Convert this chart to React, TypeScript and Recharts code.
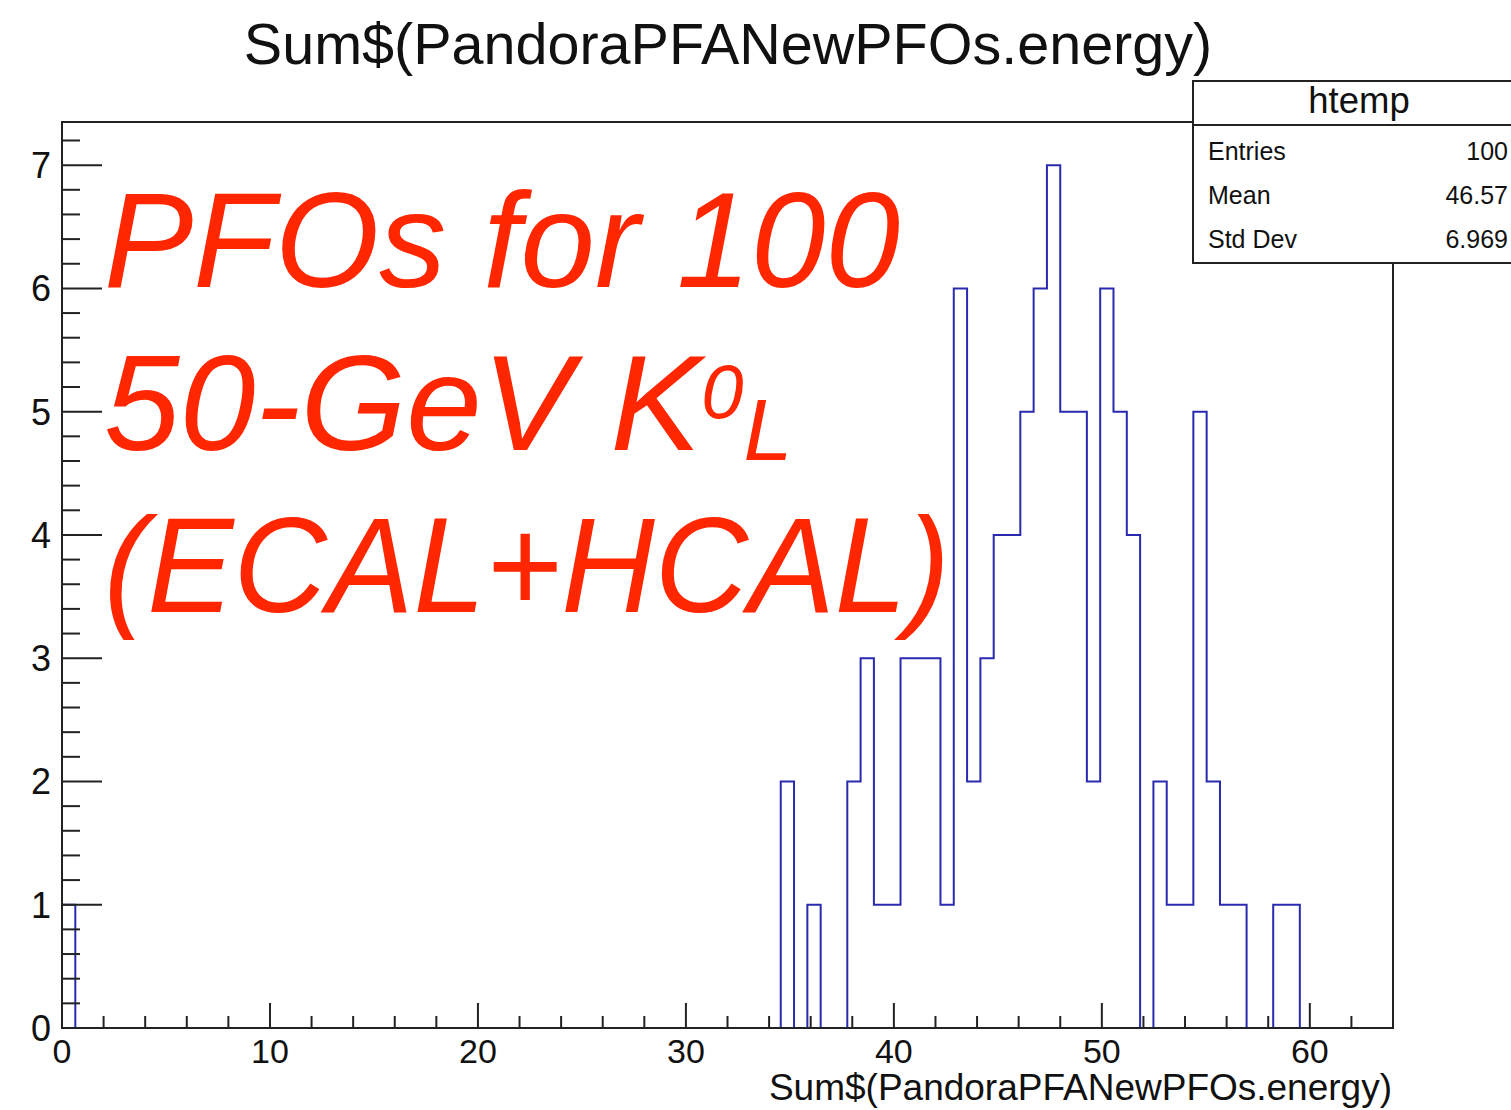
import React from 'react';
import { LineChart, Line, XAxis, YAxis, ReferenceArea } from 'recharts';

// histogram: 100 bins of width 0.64 from 0 to 64
const BIN_WIDTH = 0.64;
const X_MAX = 64;
const Y_MAX = 7.35;

const binCounts = [
  1, 0, 0, 0, 0, 0, 0, 0, 0, 0,
  0, 0, 0, 0, 0, 0, 0, 0, 0, 0,
  0, 0, 0, 0, 0, 0, 0, 0, 0, 0,
  0, 0, 0, 0, 0, 0, 0, 0, 0, 0,
  0, 0, 0, 0, 0, 0, 0, 0, 0, 0,
  0, 0, 0, 0, 2, 0, 1, 0, 0, 2,
  3, 1, 1, 3, 3, 3, 1, 6, 2, 3,
  4, 4, 5, 6, 7, 5, 5, 2, 6, 5,
  4, 0, 2, 1, 1, 5, 2, 1, 1, 0,
  0, 1, 1, 0, 0, 0, 0, 0, 0, 0,
];

const xTicks = [0, 2, 4, 6, 8, 10, 12, 14, 16, 18, 20, 22, 24, 26, 28, 30, 32, 34, 36, 38, 40, 42, 44, 46, 48, 50, 52, 54, 56, 58, 60, 62];
const yTicks = [
  0, 0.2, 0.4, 0.6, 0.8, 1, 1.2, 1.4, 1.6, 1.8, 2, 2.2, 2.4, 2.6, 2.8, 3, 3.2, 3.4, 3.6, 3.8,
  4, 4.2, 4.4, 4.6, 4.8, 5, 5.2, 5.4, 5.6, 5.8, 6, 6.2, 6.4, 6.6, 6.8, 7, 7.2,
];

const statLabels = ['Entries', 'Mean', 'Std Dev'];
const statValues = ['100', '46.57', '6.969'];

const TITLE = 'Sum$(PandoraPFANewPFOs.energy)';

const data = [
  ...binCounts.map((count, i) => ({ x: i * BIN_WIDTH, count })),
  { x: X_MAX, count: 0 },
];

const FONT = '"Liberation Sans", Arial, Helvetica, sans-serif';
const AXIS = '#222';
const RED = '#ff2600';

// ROOT style: ticks point into the frame
function renderXTick(props: any) {
  const { x, y, payload } = props;
  const major = payload.value % 10 === 0;
  return (
    <g key={`xt-${payload.value}`}>
      <line x1={x} x2={x} y1={y} y2={y - (major ? 25 : 12)} stroke={AXIS} strokeWidth={2} />
      {major && (
        <text x={x} y={y + 35} textAnchor="middle" fontSize={34} fontFamily={FONT} fill="#111">
          {payload.value}
        </text>
      )}
    </g>
  );
}

function renderYTick(props: any) {
  const { x, y, payload } = props;
  const major = Number.isInteger(payload.value);
  return (
    <g key={`yt-${payload.value}`}>
      <line x1={x} x2={x + (major ? 40 : 18)} y1={y} y2={y} stroke={AXIS} strokeWidth={2} />
      {major && (
        <text x={x - 11} y={y + 13} textAnchor="end" fontSize={36} fontFamily={FONT} fill="#111">
          {payload.value}
        </text>
      )}
    </g>
  );
}

export default function App() {
  return (
    <div
      style={{
        position: 'fixed',
        left: 0,
        top: 0,
        width: 1511,
        height: 1110,
        overflow: 'hidden',
        background: '#fff',
      }}
    >
      <LineChart
        width={1511}
        height={1110}
        data={data}
        margin={{ top: 122, right: 118, bottom: 22, left: 12 }}
      >
        <XAxis
          dataKey="x"
          type="number"
          domain={[0, X_MAX]}
          ticks={xTicks}
          interval={0}
          height={60}
          tickSize={0}
          tickMargin={0}
          tickLine={false}
          tick={renderXTick}
          axisLine={{ stroke: AXIS, strokeWidth: 2 }}
          allowDataOverflow
        />
        <YAxis
          type="number"
          domain={[0, Y_MAX]}
          ticks={yTicks}
          interval={0}
          width={50}
          tickSize={0}
          tickMargin={0}
          tickLine={false}
          tick={renderYTick}
          axisLine={{ stroke: AXIS, strokeWidth: 2 }}
          allowDataOverflow
        />
        <ReferenceArea
          x1={0}
          x2={X_MAX}
          y1={0}
          y2={Y_MAX}
          fill="none"
          fillOpacity={0}
          stroke={AXIS}
          strokeWidth={2}
          ifOverflow="visible"
        />
        <Line
          type="stepAfter"
          dataKey="count"
          stroke="#2a2ab0"
          strokeWidth={2}
          dot={false}
          isAnimationActive={false}
        />
      </LineChart>

      <svg
        width={1511}
        height={1110}
        style={{ position: 'absolute', left: 0, top: 0, pointerEvents: 'none' }}
      >
        <text x={728} y={64} textAnchor="middle" fontSize={57.5} fontFamily={FONT} fill="#111">
          {TITLE}
        </text>
        <text x={1392} y={1100} textAnchor="end" fontSize={37} fontFamily={FONT} fill="#111">
          {TITLE}
        </text>

        {/* stats box */}
        <rect x={1193} y={81} width={340} height={182} fill="#fff" stroke={AXIS} strokeWidth={2} />
        <line x1={1193} x2={1533} y1={125} y2={125} stroke={AXIS} strokeWidth={2} />
        <text x={1359} y={113} textAnchor="middle" fontSize={36.5} fontFamily={FONT} fill="#111">
          htemp
        </text>
        {statLabels.map((label, i) => (
          <g key={label}>
            <text x={1208} y={160 + i * 44} fontSize={25} fontFamily={FONT} fill="#111">
              {label}
            </text>
            <text x={1508} y={160 + i * 44} textAnchor="end" fontSize={25} fontFamily={FONT} fill="#111">
              {statValues[i]}
            </text>
          </g>
        ))}

        {/* annotation */}
        <g fontFamily={FONT} fontStyle="italic" fill={RED} fontSize={136}>
          <text x={104} y={287} textLength={796} lengthAdjust="spacingAndGlyphs">
            PFOs for 100
          </text>
          <text x={104} y={450}>
            50-GeV K
            <tspan fontSize={76} dy={-32}>0</tspan>
            <tspan fontSize={88} dy={42}>L</tspan>
          </text>
          <text x={104} y={612} textLength={846} lengthAdjust="spacingAndGlyphs">
            (ECAL+HCAL)
          </text>
        </g>
      </svg>
    </div>
  );
}
